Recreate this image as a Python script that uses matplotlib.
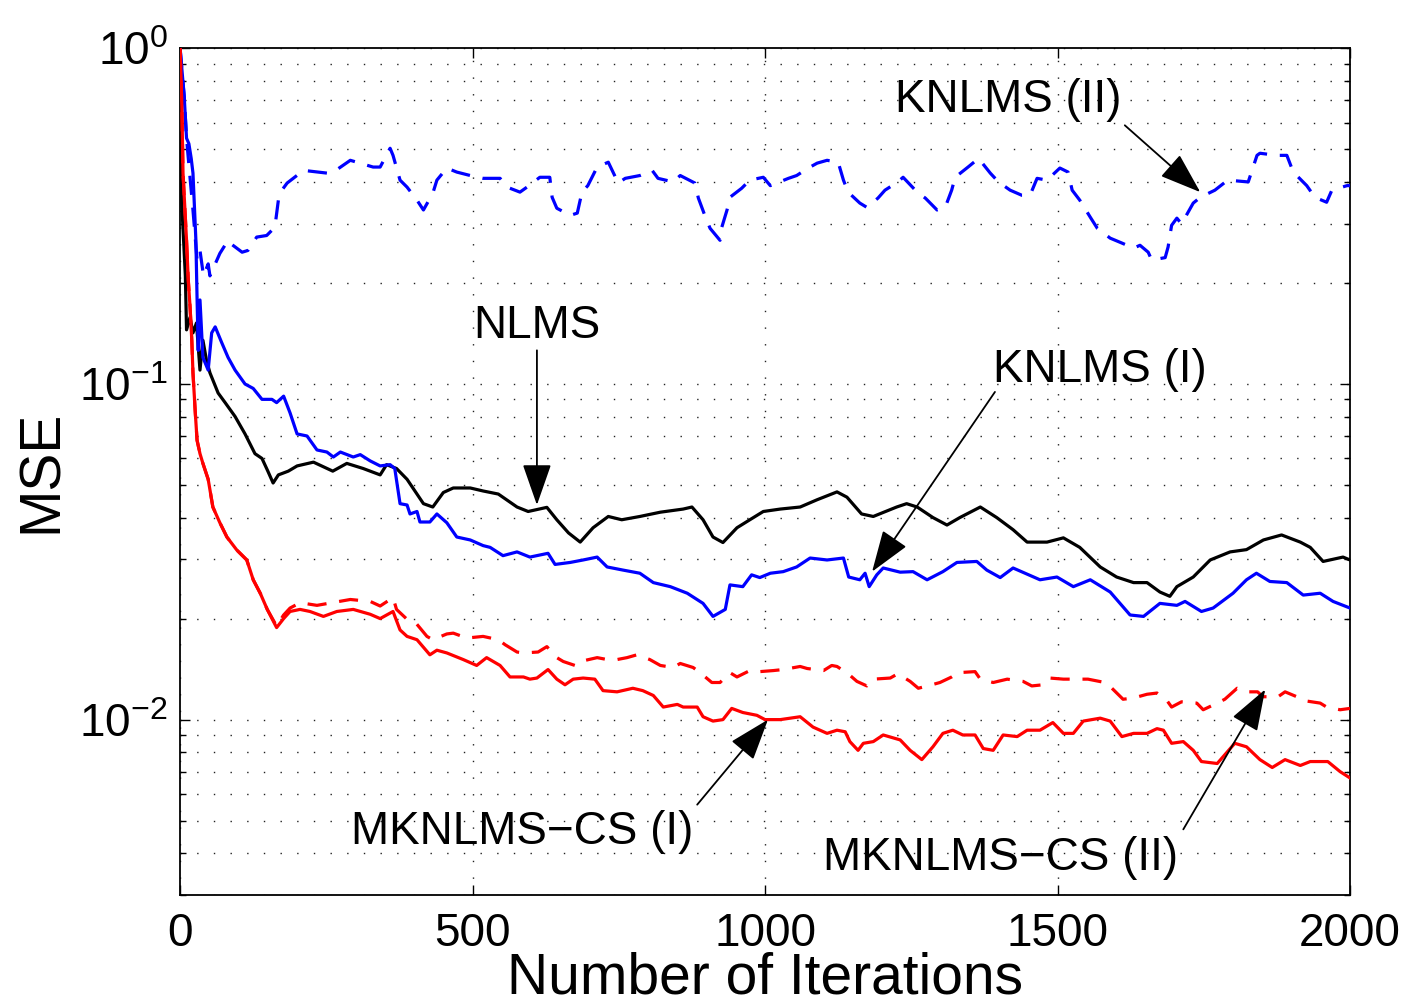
import matplotlib
matplotlib.use("Agg")
import matplotlib.pyplot as plt
from matplotlib.ticker import LogLocator, FixedLocator

plt.rcParams['font.family'] = ['Liberation Sans', 'DejaVu Sans']
plt.rcParams['mathtext.fontset'] = 'custom'
plt.rcParams['mathtext.rm'] = 'Liberation Sans'
plt.rcParams['mathtext.it'] = 'Liberation Sans'
plt.rcParams['mathtext.bf'] = 'Liberation Sans'

# ---------------- data ----------------
nlms_x = [0, 1, 3, 9, 11, 17, 22, 28, 34, 39, 45, 51, 65, 77, 94, 111, 128, 140, 150, 159, 168,
          185, 200, 228, 261, 285, 313, 342, 353, 370, 388, 416, 432, 450, 467, 496, 518, 544,
          576, 595, 627, 644, 664, 684, 706, 732, 755, 786, 821, 860, 875, 894, 911, 928, 952,
          974, 997, 1026, 1060, 1089, 1123, 1140, 1165, 1185, 1225, 1242, 1260, 1287, 1311,
          1333, 1368, 1396, 1424, 1448, 1482, 1510, 1538, 1573, 1601, 1630, 1653, 1675, 1692,
          1704, 1732, 1761, 1795, 1823, 1852, 1883, 1915, 1932, 1954, 1988, 2000]
nlms_y = [1.0, 0.50, 0.34, 0.21, 0.145, 0.158, 0.142, 0.152, 0.110, 0.135, 0.118, 0.108, 0.094,
          0.088, 0.080, 0.071, 0.062, 0.060, 0.055, 0.0507, 0.0536, 0.055, 0.057, 0.0585, 0.055,
          0.058, 0.056, 0.0536, 0.0575, 0.056, 0.052, 0.044, 0.043, 0.0475, 0.049, 0.049, 0.048,
          0.047, 0.043, 0.0417, 0.0429, 0.0394, 0.036, 0.0338, 0.0373, 0.0403, 0.0394, 0.0403,
          0.0415, 0.0424, 0.043, 0.0394, 0.035, 0.0337, 0.0373, 0.0394, 0.0417, 0.0424, 0.043,
          0.0452, 0.0477, 0.046, 0.041, 0.0403, 0.043, 0.044, 0.043, 0.040, 0.038, 0.040, 0.043,
          0.040, 0.0368, 0.0338, 0.0338, 0.0348, 0.0326, 0.0285, 0.0266, 0.0256, 0.0256, 0.024,
          0.0233, 0.0249, 0.0266, 0.0299, 0.0316, 0.0321, 0.0343, 0.0355, 0.0338, 0.0326, 0.0296,
          0.0305, 0.0299]

knlms1_x = [0, 7, 11, 15, 19, 22, 27, 29, 31, 34, 39, 48, 54, 60, 71, 82, 94, 111, 125, 140,
            157, 165, 177, 188, 200, 217, 234, 251, 262, 274, 296, 308, 325, 342, 359, 367, 376,
            388, 393, 405, 410, 427, 439, 456, 473, 496, 518, 530, 552, 576, 598, 629, 641, 667,
            689, 713, 730, 757, 786, 809, 838, 867, 894, 911, 932, 940, 962, 977, 991, 1009, 1031,
            1054, 1077, 1106, 1134, 1143, 1162, 1171, 1178, 1191, 1202, 1231, 1253, 1277, 1304,
            1328, 1362, 1379, 1402, 1424, 1470, 1499, 1527, 1556, 1590, 1624, 1647, 1675, 1704,
            1718, 1746, 1766, 1800, 1823, 1840, 1863, 1892, 1920, 1949, 1971, 2000]
knlms1_y = [1.0, 0.72, 0.54, 0.52, 0.47, 0.425, 0.268, 0.18, 0.126, 0.178, 0.12, 0.11, 0.142,
            0.148, 0.133, 0.12, 0.11, 0.10, 0.097, 0.090, 0.090, 0.088, 0.092, 0.082, 0.071, 0.070,
            0.0636, 0.0627, 0.0606, 0.0627, 0.0606, 0.0616, 0.059, 0.057, 0.0575, 0.056, 0.044,
            0.0436, 0.041, 0.0417, 0.0388, 0.0388, 0.041, 0.0386, 0.035, 0.0343, 0.033, 0.0326,
            0.0308, 0.0316, 0.0305, 0.0313, 0.029, 0.0294, 0.0299, 0.0305, 0.0285, 0.0279, 0.0273,
            0.0256, 0.0249, 0.0238, 0.0222, 0.0203, 0.0213, 0.0252, 0.0249, 0.027, 0.0265, 0.0273,
            0.0276, 0.0285, 0.0303, 0.0299, 0.0303, 0.0266, 0.0261, 0.0273, 0.0249, 0.027, 0.0283,
            0.0275, 0.0276, 0.0261, 0.0276, 0.0294, 0.0296, 0.0279, 0.0265, 0.0283, 0.0261, 0.0266,
            0.0249, 0.0261, 0.024, 0.0205, 0.0203, 0.0222, 0.0219, 0.0225, 0.021, 0.0215, 0.0238,
            0.0261, 0.0273, 0.0258, 0.0256, 0.0235, 0.0238, 0.0225, 0.0215]

knlms2_x = [0, 7, 11, 15, 22, 29, 34, 40, 48, 51, 68, 82, 89, 106, 116, 131, 148, 162, 168, 174,
            183, 211, 251, 262, 291, 330, 342, 359, 364, 376, 388, 405, 416, 432, 439, 456, 473,
            496, 518, 547, 559, 581, 593, 615, 632, 636, 644, 667, 679, 687, 697, 713, 732, 749,
            761, 786, 807, 817, 843, 855, 880, 886, 897, 906, 923, 926, 935, 940, 960, 974, 997,
            1009, 1040, 1054, 1074, 1089, 1106, 1125, 1134, 1142, 1162, 1174, 1193, 1205, 1227,
            1236, 1260, 1274, 1294, 1308, 1319, 1325, 1347, 1365, 1385, 1399, 1419, 1439, 1453,
            1465, 1482, 1504, 1518, 1525, 1538, 1556, 1568, 1590, 1610, 1630, 1641, 1655, 1661,
            1684, 1689, 1695, 1704, 1712, 1732, 1744, 1769, 1791, 1826, 1841, 1846, 1875, 1892,
            1903, 1926, 1940, 1960, 1969, 1995, 2000]
knlms2_y = [1.0, 0.72, 0.54, 0.45, 0.33, 0.234, 0.25, 0.21, 0.228, 0.21, 0.245, 0.268, 0.26,
            0.247, 0.25, 0.274, 0.277, 0.293, 0.353, 0.378, 0.397, 0.433, 0.425, 0.428, 0.464,
            0.443, 0.443, 0.504, 0.48, 0.405, 0.386, 0.353, 0.33, 0.37, 0.405, 0.44, 0.428, 0.418,
            0.41, 0.41, 0.386, 0.373, 0.386, 0.413, 0.413, 0.36, 0.334, 0.318, 0.323, 0.373, 0.39,
            0.443, 0.458, 0.397, 0.41, 0.418, 0.433, 0.41, 0.40, 0.418, 0.397, 0.358, 0.318, 0.291,
            0.268, 0.293, 0.33, 0.36, 0.383, 0.405, 0.413, 0.39, 0.41, 0.418, 0.44, 0.455, 0.464,
            0.458, 0.405, 0.373, 0.346, 0.336, 0.358, 0.378, 0.40, 0.413, 0.373, 0.358, 0.33,
            0.336, 0.378, 0.413, 0.443, 0.47, 0.425, 0.40, 0.378, 0.365, 0.365, 0.41, 0.405, 0.44,
            0.428, 0.378, 0.353, 0.314, 0.291, 0.272, 0.263, 0.254, 0.259, 0.247, 0.234, 0.238,
            0.256, 0.297, 0.312, 0.30, 0.346, 0.36, 0.378, 0.405, 0.40, 0.48, 0.487, 0.48, 0.48,
            0.428, 0.39, 0.36, 0.348, 0.378, 0.39, 0.39]

mk1_x = [0, 3, 5, 11, 14, 17, 20, 22, 26, 29, 34, 39, 48, 56, 68, 80, 97, 114, 125, 137, 149,
         165, 177, 188, 205, 222, 245, 268, 296, 325, 342, 364, 376, 388, 405, 427, 439, 456, 484,
         507, 524, 547, 564, 587, 598, 610, 629, 644, 658, 672, 689, 709, 723, 747, 774, 791, 809,
         826, 850, 860, 884, 894, 911, 928, 943, 962, 986, 1000, 1026, 1060, 1082, 1106, 1123,
         1137, 1145, 1159, 1168, 1185, 1202, 1231, 1248, 1268, 1287, 1304, 1321, 1338, 1359,
         1373, 1390, 1407, 1431, 1448, 1470, 1492, 1510, 1527, 1544, 1573, 1590, 1610, 1630,
         1653, 1670, 1681, 1695, 1715, 1732, 1746, 1773, 1803, 1823, 1846, 1867, 1889, 1915,
         1932, 1962, 1983, 2000]
mk1_y = [1.0, 0.67, 0.425, 0.268, 0.204, 0.17, 0.135, 0.108, 0.082, 0.068, 0.062, 0.058, 0.052,
         0.043, 0.0386, 0.035, 0.032, 0.0299, 0.0261, 0.0238, 0.0213, 0.0188, 0.020, 0.021,
         0.0213, 0.021, 0.0203, 0.021, 0.0213, 0.0206, 0.020, 0.021, 0.0185, 0.0177, 0.0173,
         0.0156, 0.0161, 0.0158, 0.0151, 0.0145, 0.0153, 0.0145, 0.0134, 0.0134, 0.0132, 0.0133,
         0.0141, 0.0132, 0.0127, 0.0132, 0.0133, 0.0132, 0.0122, 0.0121, 0.0124, 0.0122, 0.0118,
         0.0109, 0.0111, 0.0109, 0.0109, 0.0102, 0.0099, 0.010, 0.0108, 0.0105, 0.0103, 0.010,
         0.010, 0.0102, 0.0095, 0.0091, 0.0093, 0.0092, 0.0086, 0.0081, 0.0085, 0.0086, 0.009,
         0.0087, 0.0081, 0.0076, 0.0083, 0.0091, 0.0093, 0.009, 0.009, 0.0082, 0.0081, 0.009,
         0.0089, 0.0093, 0.0093, 0.0098, 0.0091, 0.0091, 0.0099, 0.0101, 0.0099, 0.0089, 0.0091,
         0.0091, 0.0094, 0.0093, 0.0085, 0.0086, 0.0081, 0.0075, 0.0074, 0.0085, 0.0083, 0.0076,
         0.0072, 0.0076, 0.0073, 0.0075, 0.0075, 0.0070, 0.0067]

mk2_x = [0, 3, 5, 11, 14, 17, 20, 22, 26, 29, 34, 39, 48, 56, 68, 80, 97, 114, 125, 137, 149,
         165, 177, 188, 205, 234, 291, 325, 342, 364, 370, 388, 402, 422, 432, 456, 467, 490, 518,
         544, 556, 576, 587, 612, 627, 644, 655, 675, 684, 713, 730, 747, 764, 781, 803, 821, 843,
         855, 877, 889, 909, 923, 940, 952, 974, 991, 1014, 1031, 1060, 1072, 1100, 1114, 1123,
         1142, 1157, 1174, 1185, 1214, 1227, 1248, 1262, 1285, 1299, 1319, 1330, 1359, 1368,
         1390, 1414, 1441, 1456, 1475, 1487, 1510, 1541, 1552, 1581, 1593, 1612, 1630, 1653,
         1670, 1687, 1695, 1712, 1738, 1749, 1773, 1786, 1807, 1823, 1842, 1851, 1877, 1889,
         1909, 1920, 1949, 1960, 1983, 2000]
mk2_y = [1.0, 0.67, 0.425, 0.268, 0.204, 0.17, 0.135, 0.108, 0.082, 0.068, 0.062, 0.058, 0.052,
         0.043, 0.0386, 0.035, 0.032, 0.0299, 0.0261, 0.0238, 0.0213, 0.019, 0.0205, 0.0215,
         0.0223, 0.0219, 0.0228, 0.0225, 0.0218, 0.0231, 0.0213, 0.0199, 0.0195, 0.0177, 0.0173,
         0.018, 0.0181, 0.0175, 0.0177, 0.0173, 0.0167, 0.0159, 0.0158, 0.0159, 0.0165, 0.0153,
         0.0149, 0.0145, 0.0149, 0.0153, 0.0151, 0.0151, 0.0153, 0.0156, 0.0151, 0.0145, 0.0143,
         0.0147, 0.0143, 0.0138, 0.0129, 0.0129, 0.0138, 0.0134, 0.014, 0.0139, 0.014, 0.0141,
         0.0144, 0.0142, 0.014, 0.0145, 0.0144, 0.0137, 0.013, 0.0126, 0.0132, 0.0133, 0.0137,
         0.013, 0.0124, 0.0127, 0.0129, 0.0134, 0.0138, 0.0139, 0.0132, 0.0129, 0.0132, 0.013,
         0.0126, 0.0127, 0.0133, 0.0132, 0.0132, 0.0132, 0.0129, 0.0124, 0.0115, 0.0116, 0.0119,
         0.012, 0.0114, 0.0109, 0.0113, 0.0112, 0.0107, 0.0112, 0.0115, 0.0124, 0.0121, 0.0121,
         0.0117, 0.0117, 0.0121, 0.0117, 0.0114, 0.0112, 0.0109, 0.0107, 0.0108]

x_ticks = [0, 500, 1000, 1500, 2000]
x_label = "Number of Iterations"
y_label = "MSE"

# labels: (text, text position, arrow start, arrow tip) in data units
labels = [
    ("KNLMS (II)", (1415, 0.70), (1615, 0.59), (1744, 0.373)),
    ("NLMS", (610, 0.149), (610, 0.126), (610, 0.0436)),
    ("KNLMS (I)", (1573, 0.110), (1393, 0.0947), (1183, 0.0276)),
    ("MKNLMS\u2212CS (I)", (585, 0.00464), (884, 0.00558), (1005, 0.0100)),
    ("MKNLMS\u2212CS (II)", (1403, 0.00388), (1715, 0.00471), (1855, 0.0123)),
]

# ---------------- figure ----------------
fig = plt.figure(figsize=(14.07, 10.08), dpi=100)
ax = fig.add_axes([0.128, 0.112, 0.8315, 0.840])

lw = 2.3
dash = (0, (6, 4))
ax.plot(nlms_x, nlms_y, color='black', lw=lw, zorder=3)
ax.plot(knlms1_x, knlms1_y, color='#0000ff', lw=lw, zorder=3)
ax.plot(knlms2_x, knlms2_y, color='#0000ff', lw=lw, ls=dash, zorder=3)
ax.plot(mk2_x, mk2_y, color='#ff0000', lw=lw, ls=dash, zorder=4)
ax.plot(mk1_x, mk1_y, color='#ff0000', lw=lw, zorder=4)

ax.set_yscale('log')
ax.set_xlim(0, 2000)
ax.set_ylim(3.0e-3, 1.0)
ax.xaxis.set_major_locator(FixedLocator(x_ticks))
ax.yaxis.set_major_locator(LogLocator(base=10, numticks=10))
ax.yaxis.set_minor_locator(LogLocator(base=10, subs=range(2, 10), numticks=20))
ax.yaxis.set_minor_formatter(matplotlib.ticker.NullFormatter())

gkw = dict(color='#222222', lw=1.0, ls=(0, (1, 11)))
ax.grid(True, which='major', axis='both', **gkw)
ax.grid(True, which='minor', axis='y', **gkw)
ax.set_axisbelow(True)

ax.tick_params(which='both', direction='in', top=True, right=True, width=1.0)
ax.tick_params(which='major', length=7, labelsize=33)
ax.tick_params(which='minor', length=4)
ax.tick_params(axis='x', which='major', pad=12)
ax.tick_params(axis='y', which='major', pad=9)
for s in ax.spines.values():
    s.set_linewidth(1.3)

ax.set_xlabel(x_label, fontsize=41, labelpad=-3)
ax.set_ylabel(y_label, fontsize=41, labelpad=7)

for txt, tpos, start, tip in labels:
    ax.text(tpos[0], tpos[1], txt, fontsize=33, ha='center', va='center', zorder=6)
    ax.annotate('', xy=tip, xytext=start,
                arrowprops=dict(arrowstyle='-|>,head_length=1.0,head_width=0.35',
                                mutation_scale=26, lw=1.3, color='black',
                                shrinkA=0, shrinkB=0), zorder=6)

fig.savefig('out.png', dpi=100)
